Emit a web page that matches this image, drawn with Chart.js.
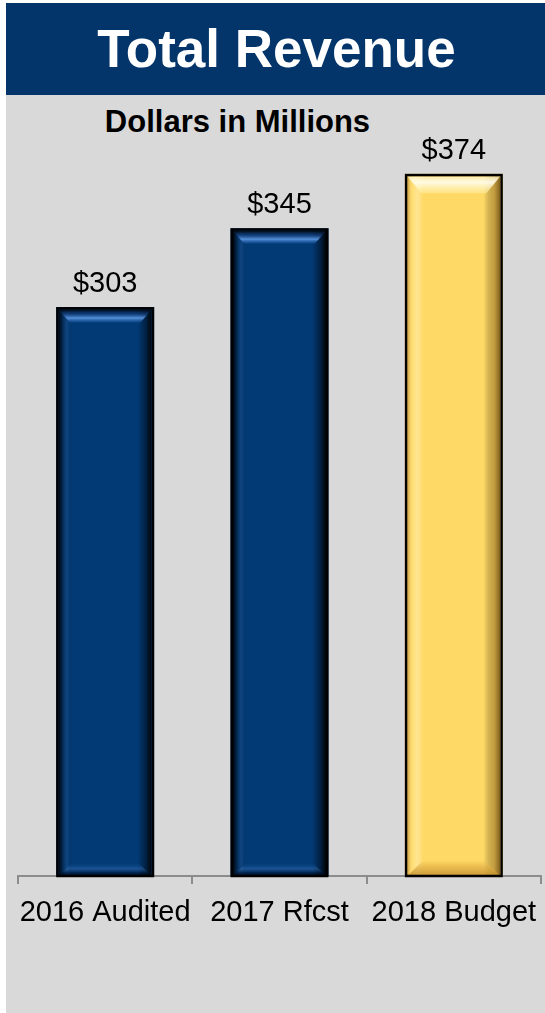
<!DOCTYPE html>
<html>
<head>
<meta charset="utf-8">
<script src="https://cdn.jsdelivr.net/npm/chart.js@4.4.1/dist/chart.umd.min.js"></script>
<style>
  html, body { margin: 0; padding: 0; background: #ffffff; }
  #page { position: relative; width: 545px; height: 1013px; overflow: hidden; }
  #panel { position: absolute; left: 6px; top: 3px; width: 539px; height: 1010px; background: #d9d9d9; }
  #banner { position: absolute; left: 6px; top: 3px; width: 539px; height: 92px; background: #03356a; }
  #title { position: absolute; left: 6px; top: 22px; width: 541px; text-align: center;
           font: bold 53px/53px "Liberation Sans", Arial, sans-serif; color: #ffffff; }
  #subtitle { position: absolute; left: 0px; top: 106px; width: 475px; text-align: center;
              font: bold 31px/31px "Liberation Sans", Arial, sans-serif; color: #000000; }
  #wrap { position: absolute; left: 0; top: 0; width: 545px; height: 1013px; }
</style>
</head>
<body>
<div id="page">
  <div id="panel"></div>
  <div id="banner"></div>
  <div id="title">Total Revenue</div>
  <div id="subtitle">Dollars in Millions</div>
  <div id="wrap"><canvas id="c" width="545" height="1013"></canvas></div>
</div>
<script>
const categories = ['2016 Audited', '2017 Rfcst', '2018 Budget'];
const revenue = [303, 345, 374];
const valueLabels = ['$303', '$345', '$374'];
const barColors = ['#023a76', '#023a76', '#ffd966'];
const barKinds = ['navy', 'navy', 'gold'];
const yTicks = [0, 400];

const FONT = '"Liberation Sans", Arial, sans-serif';

function bevel(ctx, L, T, R, B, kind) {
  const w = R - L, h = B - T;
  ctx.save();
  ctx.beginPath();
  ctx.rect(L, T, w, h);
  ctx.clip();
  let g = ctx.createLinearGradient(L, 0, R, 0);
  if (kind === 'navy') {
    g.addColorStop(0, 'rgba(0,0,0,0.9)');
    g.addColorStop(0.04, 'rgba(0,0,0,0.35)');
    g.addColorStop(0.09, 'rgba(60,110,170,0.22)');
    g.addColorStop(0.15, 'rgba(0,0,0,0)');
    g.addColorStop(0.85, 'rgba(0,0,0,0)');
    g.addColorStop(0.94, 'rgba(0,0,0,0.45)');
    g.addColorStop(1, 'rgba(0,0,0,0.95)');
  } else {
    g.addColorStop(0, 'rgba(150,100,20,0.55)');
    g.addColorStop(0.05, 'rgba(255,235,160,0.2)');
    g.addColorStop(0.1, 'rgba(255,245,200,0.45)');
    g.addColorStop(0.17, 'rgba(255,255,255,0)');
    g.addColorStop(0.82, 'rgba(0,0,0,0)');
    g.addColorStop(0.93, 'rgba(130,90,20,0.45)');
    g.addColorStop(1, 'rgba(90,60,10,0.8)');
  }
  ctx.fillStyle = g;
  ctx.fillRect(L, T, w, h);

  const d = kind === 'navy' ? 14 : 17;
  const sx = kind === 'navy' ? 12 : 14;
  ctx.beginPath();
  ctx.moveTo(L, T); ctx.lineTo(R, T); ctx.lineTo(R - sx, T + d); ctx.lineTo(L + sx, T + d); ctx.closePath();
  g = ctx.createLinearGradient(0, T, 0, T + d);
  if (kind === 'navy') {
    g.addColorStop(0, 'rgba(0,0,0,0.9)');
    g.addColorStop(0.3, 'rgba(20,60,120,0.6)');
    g.addColorStop(0.6, 'rgba(95,155,230,0.9)');
    g.addColorStop(0.85, 'rgba(60,120,200,0.35)');
    g.addColorStop(1, 'rgba(2,58,116,0)');
  } else {
    g.addColorStop(0, 'rgba(255,245,200,0.7)');
    g.addColorStop(0.35, 'rgba(255,253,235,0.95)');
    g.addColorStop(1, 'rgba(255,236,150,0.6)');
  }
  ctx.fillStyle = g;
  ctx.fill();

  const e = kind === 'navy' ? 14 : 16;
  ctx.beginPath();
  ctx.moveTo(L, B); ctx.lineTo(R, B); ctx.lineTo(R - e, B - e); ctx.lineTo(L + e, B - e); ctx.closePath();
  g = ctx.createLinearGradient(0, B - e, 0, B);
  if (kind === 'navy') {
    g.addColorStop(0, 'rgba(2,58,116,0)');
    g.addColorStop(0.45, 'rgba(80,140,215,0.3)');
    g.addColorStop(0.75, 'rgba(0,20,50,0.5)');
    g.addColorStop(1, 'rgba(0,0,0,0.8)');
  } else {
    g.addColorStop(0, 'rgba(230,180,70,0)');
    g.addColorStop(0.4, 'rgba(225,175,70,0.65)');
    g.addColorStop(1, 'rgba(190,140,45,0.85)');
  }
  ctx.fillStyle = g;
  ctx.fill();
  ctx.restore();
}

const bevelPlugin = {
  id: 'bevelLabels',
  afterDatasetsDraw(chart) {
    const ctx = chart.ctx;
    const meta = chart.getDatasetMeta(0);
    meta.data.forEach((bar, i) => {
      const p = bar.getProps(['x', 'y', 'base', 'width'], true);
      const L = p.x - p.width / 2, R = p.x + p.width / 2;
      bevel(ctx, L + 2.5, p.y + 2.5, R - 2.5, p.base, barKinds[i]);
      ctx.save();
      ctx.strokeStyle = '#000000';
      ctx.lineWidth = 2.5;
      ctx.strokeRect(L + 1.25, p.y + 1.25, p.width - 2.5, p.base - p.y - 1.25);
      ctx.fillStyle = '#000000';
      ctx.font = '29px ' + FONT;
      ctx.textAlign = 'center';
      ctx.textBaseline = 'alphabetic';
      ctx.fillText(valueLabels[i], p.x, p.y - 15);
      ctx.restore();
    });
  }
};

new Chart(document.getElementById('c'), {
  type: 'bar',
  data: {
    labels: categories,
    datasets: [{
      data: revenue,
      backgroundColor: barColors,
      borderColor: '#000000',
      borderWidth: 0,
      barPercentage: 0.562,
      categoryPercentage: 1.0
    }]
  },
  options: {
    responsive: false,
    animation: false,
    events: [],
    layout: { padding: { top: 125, left: 18, right: 4, bottom: 0 } },
    plugins: { legend: { display: false }, tooltip: { enabled: false }, title: { display: false } },
    scales: {
      x: {
        z: 1,
        grid: { display: true, drawOnChartArea: false, drawTicks: true, tickLength: 8, color: '#8c8c8c', lineWidth: 2, offset: true },
        border: { display: true, color: '#8c8c8c', width: 2 },
        ticks: { color: '#000000', font: { family: FONT, size: 29 }, padding: 12, maxRotation: 0, autoSkip: false },
        afterFit: (scale) => { scale.height = 137; scale.paddingLeft = 0; scale.paddingRight = 0; }
      },
      y: {
        display: false,
        min: yTicks[0],
        max: yTicks[1]
      }
    }
  },
  plugins: [bevelPlugin]
});
</script>
</body>
</html>
